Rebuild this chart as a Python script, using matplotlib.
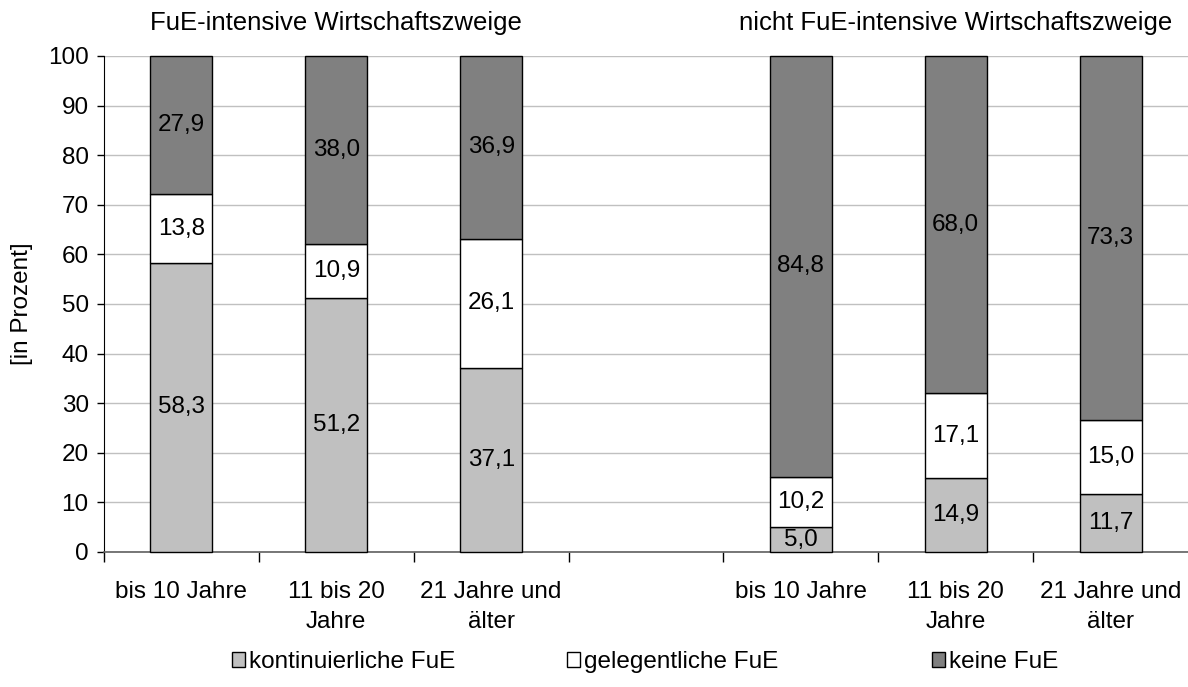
import matplotlib
matplotlib.use("Agg")
import matplotlib.pyplot as plt
import numpy as np

plt.rcParams['font.family'] = ['Liberation Sans', 'DejaVu Sans']

categories = ["bis 10 Jahre", "11 bis 20\nJahre", "21 Jahre und\nälter"]
group_titles = ["FuE-intensive Wirtschaftszweige", "nicht FuE-intensive Wirtschaftszweige"]
series_names = ["kontinuierliche FuE", "gelegentliche FuE", "keine FuE"]

fue_kontinuierlich = [58.3, 51.2, 37.1]
fue_gelegentlich = [13.8, 10.9, 26.1]
fue_keine = [27.9, 38.0, 36.9]

nicht_kontinuierlich = [5.0, 14.9, 11.7]
nicht_gelegentlich = [10.2, 17.1, 15.0]
nicht_keine = [84.8, 68.0, 73.3]

colors = ["#c0c0c0", "#ffffff", "#808080"]
FS = 17.5

W, H = 1188, 687
fig = plt.figure(figsize=(W/100, H/100), dpi=100)
ax = fig.add_axes([104/W, 1-552/H, 1-104/W, (552-56)/H])

pos_left = np.array([0, 1, 2])
pos_right = np.array([4, 5, 6])
width = 0.4

handles = []
def stack(pos, s1, s2, s3, keep):
    bottoms = np.zeros(len(pos))
    for i, (vals, c) in enumerate(zip([s1, s2, s3], colors)):
        vals = np.array(vals)
        bars = ax.bar(pos, vals, width, bottom=bottoms, color=c, edgecolor="black",
                      linewidth=1.0, clip_on=False, zorder=3)
        if keep:
            handles.append(bars)
        for x, b, v in zip(pos, bottoms, vals):
            ax.text(x, b + v/2, f"{v:.1f}".replace(".", ","), ha="center", va="center",
                    fontsize=FS, zorder=4)
        bottoms = bottoms + vals

stack(pos_left, fue_kontinuierlich, fue_gelegentlich, fue_keine, True)
stack(pos_right, nicht_kontinuierlich, nicht_gelegentlich, nicht_keine, False)

ax.set_xlim(-0.5, 6.5)
ax.set_ylim(0, 100)
ax.set_yticks(np.arange(0, 101, 10))
ax.yaxis.grid(True, color="#c0c0c0", linewidth=1.0, zorder=0)
ax.set_axisbelow(True)
ax.tick_params(axis="y", labelsize=FS, length=5, width=1, direction="out", pad=6)

all_pos = list(pos_left) + list(pos_right)
ax.set_xticks(all_pos)
ax.set_xticklabels(categories + categories, fontsize=FS, linespacing=1.45)
ax.tick_params(axis="x", which="major", length=0, pad=21)
ax.set_xticks(np.arange(-0.5, 6, 1.0), minor=True)
ax.tick_params(axis="x", which="minor", length=7, width=1, direction="out")

for s in ["top", "right"]:
    ax.spines[s].set_visible(False)
ax.spines["left"].set_color("black")
ax.spines["bottom"].set_color("#606060")
ax.spines["bottom"].set_linewidth(1.2)

fig.text(22/W, 1-304/H, "[in Prozent]", rotation=90, ha="center", va="center", fontsize=FS)

for cx, t in zip([1, 5], group_titles):
    ax.annotate(t, xy=(cx, 0), xycoords=("data", "figure fraction"),
                xytext=(cx, 1-23/H), textcoords=("data", "figure fraction"),
                ha="center", va="center", fontsize=18.5, annotation_clip=False)

legend_x = [232, 567, 932]
for h, lab, lx in zip(handles, series_names, legend_x):
    leg = fig.legend([h], [lab], loc="center left", bbox_to_anchor=(lx/W, 1-662/H),
                     frameon=False, fontsize=FS, handlelength=0.55, handleheight=0.55,
                     handletextpad=0.15, borderpad=0, borderaxespad=0)

fig.savefig("out.png", dpi=100)
